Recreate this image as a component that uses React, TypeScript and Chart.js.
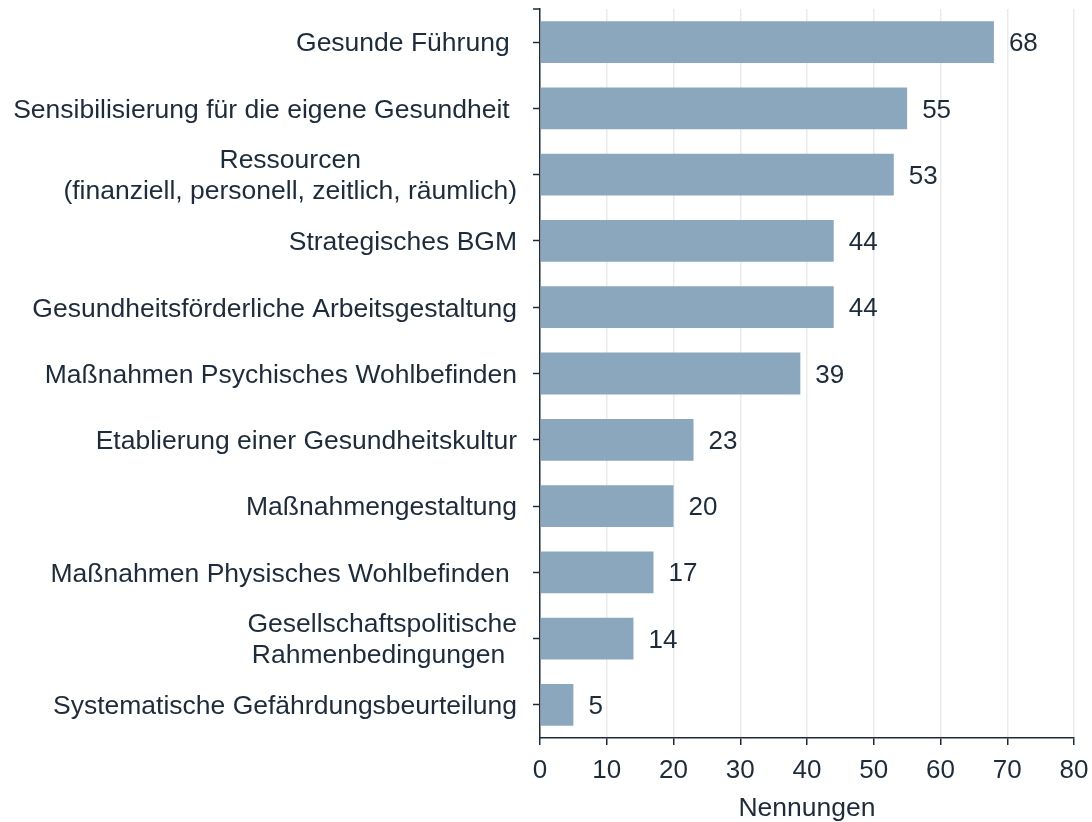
import React, { useEffect, useRef } from "react";
import { Chart, registerables } from "chart.js";

Chart.register(...registerables);

const categories: (string | string[])[] = [
  "Gesunde Führung ",
  "Sensibilisierung für die eigene Gesundheit ",
  ["Ressourcen", "(finanziell, personell, zeitlich, räumlich)"],
  "Strategisches BGM",
  "Gesundheitsförderliche Arbeitsgestaltung",
  "Maßnahmen Psychisches Wohlbefinden",
  "Etablierung einer Gesundheitskultur",
  "Maßnahmengestaltung",
  "Maßnahmen Physisches Wohlbefinden ",
  ["Gesellschaftspolitische", "Rahmenbedingungen "],
  "Systematische Gefährdungsbeurteilung",
];

const values: number[] = [68, 55, 53, 44, 44, 39, 23, 20, 17, 14, 5];

const xTicks: number[] = [0, 10, 20, 30, 40, 50, 60, 70, 80];

const axisTitle = "Nennungen";

const TEXT = "#1d2b3a";
const BAR = "#8aa7bd";
const GRID = "#ebebeb";
const FONT = "'Liberation Sans', Arial, sans-serif";

export default function App() {
  const ref = useRef<HTMLCanvasElement | null>(null);

  useEffect(() => {
    document.body.style.margin = "0";
    const canvas = ref.current;
    if (!canvas) return;

    const labelPlugin = {
      id: "customLabels",
      afterDraw(chart: any) {
        const ctx = chart.ctx as CanvasRenderingContext2D;
        const yScale = chart.scales.y;
        const area = chart.chartArea;
        ctx.save();
        // category labels
        ctx.font = `26.5px ${FONT}`;
        ctx.fillStyle = TEXT;
        ctx.textBaseline = "middle";
        const rightEdge = area.left - 23;
        const lineH = 31;
        categories.forEach((lab, i) => {
          const y = yScale.getPixelForTick(i) + 2;
          const lines = Array.isArray(lab) ? lab : [lab];
          if (lines.length === 1) {
            ctx.textAlign = "right";
            ctx.fillText(lines[0], rightEdge, y);
          } else {
            const maxW = Math.max(...lines.map((l) => ctx.measureText(l).width));
            const cx = rightEdge - maxW / 2;
            ctx.textAlign = "center";
            lines.forEach((l, j) => {
              const ly = y + (j - (lines.length - 1) / 2) * lineH;
              ctx.fillText(l, cx, ly);
            });
          }
        });
        // value labels
        ctx.font = `26px ${FONT}`;
        ctx.textAlign = "left";
        const meta = chart.getDatasetMeta(0);
        meta.data.forEach((bar: any, i: number) => {
          ctx.fillText(String(values[i]), bar.x + 15, bar.y + 2);
        });
        // top cap of y axis
        ctx.strokeStyle = TEXT;
        ctx.lineWidth = 1.5;
        ctx.beginPath();
        ctx.moveTo(area.left - 7, area.top);
        ctx.lineTo(area.left, area.top);
        ctx.stroke();
        ctx.restore();
      },
    };

    const chart = new Chart(canvas, {
      type: "bar",
      data: {
        labels: categories.map((c) => (Array.isArray(c) ? c.join(" ") : c)),
        datasets: [
          {
            data: values,
            backgroundColor: BAR,
            borderWidth: 0,
            categoryPercentage: 1,
            barPercentage: 0.63,
          },
        ],
      },
      options: {
        indexAxis: "y",
        animation: false,
        responsive: false,
        maintainAspectRatio: false,
        layout: { padding: { left: 0, right: 18, top: 9, bottom: 0 } },
        plugins: {
          legend: { display: false },
          tooltip: { enabled: false },
        },
        scales: {
          x: {
            type: "linear",
            position: "bottom",
            min: 0,
            max: 80,
            afterBuildTicks(scale: any) {
              scale.ticks = xTicks.map((v) => ({ value: v }));
            },
            afterFit(scale: any) {
              scale.height = 84;
              scale.paddingLeft = 0;
              scale.paddingRight = 0;
            },
            ticks: {
              color: TEXT,
              font: { family: FONT, size: 26 },
              padding: 10,
              maxRotation: 0,
            },
            grid: {
              color: GRID,
              lineWidth: 1.5,
              drawTicks: true,
              tickLength: 7,
              tickColor: TEXT,
              tickWidth: 1.5,
            },
            border: { display: true, color: TEXT, width: 1.5 },
            title: {
              display: true,
              text: axisTitle,
              color: TEXT,
              font: { family: FONT, size: 26.5, lineHeight: 1.0 },
              padding: { top: 0, bottom: 0 },
            },
          },
          y: {
            type: "category",
            position: "left",
            afterFit(scale: any) {
              scale.width = 540;
              scale.paddingTop = 0;
              scale.paddingBottom = 0;
            },
            ticks: {
              callback: () => "",
              font: { family: FONT, size: 1 },
              padding: 0,
            },
            grid: {
              offset: false,
              drawOnChartArea: false,
              drawTicks: true,
              tickLength: 7,
              tickColor: TEXT,
              tickWidth: 1.5,
            },
            border: { display: true, color: TEXT, width: 1.5 },
          },
        },
      },
      plugins: [labelPlugin],
    });

    return () => chart.destroy();
  }, []);

  return (
    <div style={{ width: 1092, height: 822, position: "relative" }}>
      <canvas ref={ref} width={1092} height={822} style={{ display: "block" }} />
    </div>
  );
}
